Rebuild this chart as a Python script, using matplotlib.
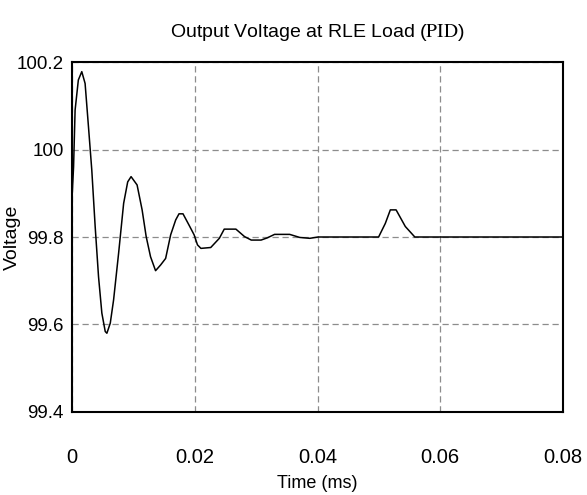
import matplotlib
matplotlib.use("Agg")
import matplotlib.pyplot as plt

# PID step response of the output voltage, traced points
time_ms = [0.0, 0.00025, 0.0005, 0.00103, 0.00159, 0.00213, 0.00268, 0.00322,
           0.00377, 0.00432, 0.00486, 0.00541, 0.00568, 0.00623, 0.00677,
           0.00759, 0.00841, 0.00907, 0.00962, 0.0106, 0.01142, 0.01208,
           0.01279, 0.01361, 0.01443, 0.01525, 0.01607, 0.01689, 0.01743,
           0.01808, 0.01907, 0.01989, 0.02044, 0.0210, 0.0226, 0.0240,
           0.0248, 0.0267, 0.0281, 0.0292, 0.0308, 0.0318, 0.0330, 0.03546,
           0.0371, 0.03874, 0.0401, 0.04995, 0.05104, 0.05186, 0.0528,
           0.0543, 0.05585, 0.08]
voltage = [99.89, 99.96, 100.09, 100.159, 100.178, 100.151, 100.052, 99.953,
           99.824, 99.709, 99.626, 99.584, 99.58, 99.603, 99.656,
           99.763, 99.877, 99.926, 99.938, 99.919, 99.862, 99.801,
           99.755, 99.723, 99.736, 99.751, 99.805, 99.839, 99.853,
           99.853, 99.827, 99.805, 99.782, 99.774, 99.776, 99.797,
           99.818, 99.818, 99.801, 99.793, 99.793, 99.798, 99.806, 99.806,
           99.799, 99.797, 99.80, 99.80, 99.831, 99.862, 99.862,
           99.824, 99.80, 99.80]

x_ticks = [0, 0.02, 0.04, 0.06, 0.08]
x_labels = ["0", "0.02", "0.04", "0.06", "0.08"]
y_ticks = [99.4, 99.6, 99.8, 100.0, 100.2]
y_labels = ["99.4", "99.6", "99.8", "100", "100.2"]

font = "Liberation Sans"
plt.rcParams["mathtext.fontset"] = "stix"

fig = plt.figure(figsize=(5.87, 4.95), dpi=100)
ax = fig.add_axes([0.1227, 0.1677, 0.8365, 0.707])

ax.plot(time_ms, voltage, color="black", lw=1.1)

ax.set_xlim(0, 0.08)
ax.set_ylim(99.4, 100.2)
ax.set_xticks(x_ticks)
ax.set_yticks(y_ticks)
ax.set_xticklabels(x_labels, family=font, fontsize=14.5)
ax.set_yticklabels(y_labels, family=font, fontsize=13.5)
ax.tick_params(axis="x", length=0, pad=26)
ax.tick_params(axis="y", length=0, pad=6)

ax.grid(True, color="#8c8c8c", linestyle=(0, (5, 3)), lw=0.9)
for s in ax.spines.values():
    s.set_linewidth(1.5)

ax.set_title("Output Voltage at RLE Load ($\\mathrm{PID}$)", family=font,
             fontsize=14, pad=18)
ax.set_xlabel("Time (ms)", family=font, fontsize=13, labelpad=6)
ax.set_ylabel("Voltage", family=font, fontsize=14)
ax.yaxis.set_label_coords(-0.105, 0.5)

plt.savefig("out.png", dpi=100)
